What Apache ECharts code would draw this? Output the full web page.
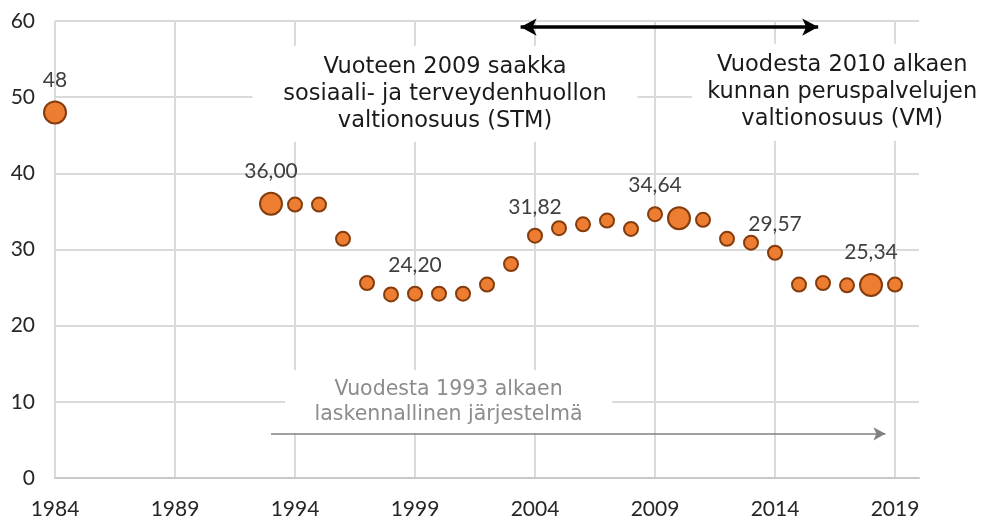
<!DOCTYPE html>
<html><head><meta charset="utf-8">
<script src="https://cdn.jsdelivr.net/npm/echarts@6/dist/echarts.min.js"></script>
<style>html,body{margin:0;padding:0;background:#fff}#c{width:987px;height:523px}</style>
</head><body><div id="c"></div>
<script>
const years = [1984, 1993, 1994, 1995, 1996, 1997, 1998, 1999, 2000, 2001, 2002, 2003, 2004, 2005, 2006, 2007, 2008, 2009, 2010, 2011, 2012, 2013, 2014, 2015, 2016, 2017, 2018, 2019];
const values = [48, 36.00, 35.9, 35.9, 31.4, 25.6, 24.1, 24.2, 24.2, 24.2, 25.4, 28.1, 31.82, 32.8, 33.3, 33.8, 32.7, 34.64, 34.1, 33.9, 31.4, 30.9, 29.57, 25.4, 25.6, 25.3, 25.34, 25.4];
const pointLabels = ['48', '36,00', '', '', '', '', '', '24,20', '', '', '', '', '31,82', '', '', '', '', '34,64', '', '', '', '', '29,57', '', '', '', '25,34', ''];
const bigYears = [1984, 1993, 2010, 2018];
const stmText = ['Vuoteen 2009 saakka', 'sosiaali- ja terveydenhuollon', 'valtionosuus (STM)'];
const vmText = ['Vuodesta 2010 alkaen', 'kunnan peruspalvelujen', 'valtionosuus (VM)'];
const calcText = ['Vuodesta 1993 alkaen', 'laskennallinen järjestelmä'];

const chart = echarts.init(document.getElementById('c'));
const labelFont = 'Lato, "Open Sans", sans-serif';
const annFont = '"DejaVu Sans", Verdana, sans-serif';

const data = years.map((y, i) => {
  const big = bigYears.includes(y);
  return {
    value: [y, values[i]],
    symbolSize: big ? 22 : 14,
    label: { show: !!pointLabels[i], formatter: pointLabels[i] }
  };
});

chart.setOption({
  animation: false,
  grid: { left: 55, right: 68, top: 21, bottom: 45, containLabel: false },
  xAxis: {
    type: 'value', min: 1984, max: 2020, interval: 5,
    axisLine: { show: true, onZero: true, lineStyle: { color: '#c8c8c8', width: 2 } },
    axisTick: { show: false },
    axisLabel: { showMaxLabel: false, margin: 21, color: '#262626', fontFamily: labelFont, fontSize: 21, formatter: v => String(v) },
    splitLine: { show: true, showMinLine: true, showMaxLine: false, lineStyle: { color: '#dadada', width: 2 } }
  },
  yAxis: {
    type: 'value', min: 0, max: 60, interval: 10,
    axisLine: { show: false },
    axisTick: { show: false },
    axisLabel: { margin: 20, color: '#262626', fontFamily: labelFont, fontSize: 21 },
    splitLine: { show: true, lineStyle: { color: '#dadada', width: 2 } }
  },
  series: [
    {
      type: 'scatter',
      data: data,
      z: 3,
      clip: false,
      itemStyle: { color: '#ED7D31', borderColor: '#843C0C', borderWidth: 2, opacity: 1 },
      label: { position: 'top', distance: 10, color: '#404040', fontFamily: labelFont, fontSize: 21 },
      emphasis: { disabled: true }
    },
    {
      type: 'scatter',
      data: [],
      z: 1,
      clip: false,
      markPoint: {
        z: 1,
        symbol: 'circle', symbolSize: 1,
        itemStyle: { color: 'rgba(0,0,0,0)' },
        label: { show: true, position: 'inside', backgroundColor: '#fff', fontFamily: annFont, align: 'center' },
        data: [
          { coord: [2000.25, 50.45], label: { formatter: stmText.join('\n'), fontSize: 22.5, lineHeight: 27, color: '#1a1a1a', width: 385, height: 81, padding: [8, 0, 7, 0] } },
          { coord: [2016.8, 50.65], label: { formatter: vmText.join('\n'), fontSize: 22.5, lineHeight: 27, color: '#1a1a1a', width: 300, height: 81, padding: [8, 0, 8, 0] } },
          { coord: [2000.4, 10.0], label: { formatter: calcText.join('\n'), fontSize: 20.5, lineHeight: 25, color: '#8c8c8c', width: 327, height: 50, padding: [7, 0, 6, 0] } }
        ]
      }
    },
    {
      type: 'scatter',
      data: [],
      z: 4,
      clip: false,
      markLine: {
        z: 6,
        silent: true,
        animation: false,
        label: { show: false },
        emphasis: { disabled: true },
        data: [
          [
            { coord: [1993, -1.2], symbol: 'none', lineStyle: { color: '#d4d4d4', width: 2, type: [9, 6] } },
            { coord: [1993, 60.5], symbol: 'none' }
          ],
          [
            { coord: [2010, 0], symbol: 'none', lineStyle: { color: '#000', width: 2, type: [10, 6] } },
            { coord: [2010, 62.7], symbol: 'none' }
          ],
          [
            { coord: [2003.4, 59.2], symbol: 'arrow', symbolSize: [13, 16], lineStyle: { color: '#000', width: 3.5, type: 'solid' } },
            { coord: [2015.8, 59.2], symbol: 'arrow', symbolSize: [13, 16] }
          ],
          [
            { coord: [1993, 5.8], symbol: 'none', lineStyle: { color: '#808080', width: 1.5, type: 'solid' } },
            { coord: [2018.6, 5.8], symbol: 'arrow', symbolSize: [10, 12] }
          ]
        ]
      }
    }
  ]
});
</script></body></html>
